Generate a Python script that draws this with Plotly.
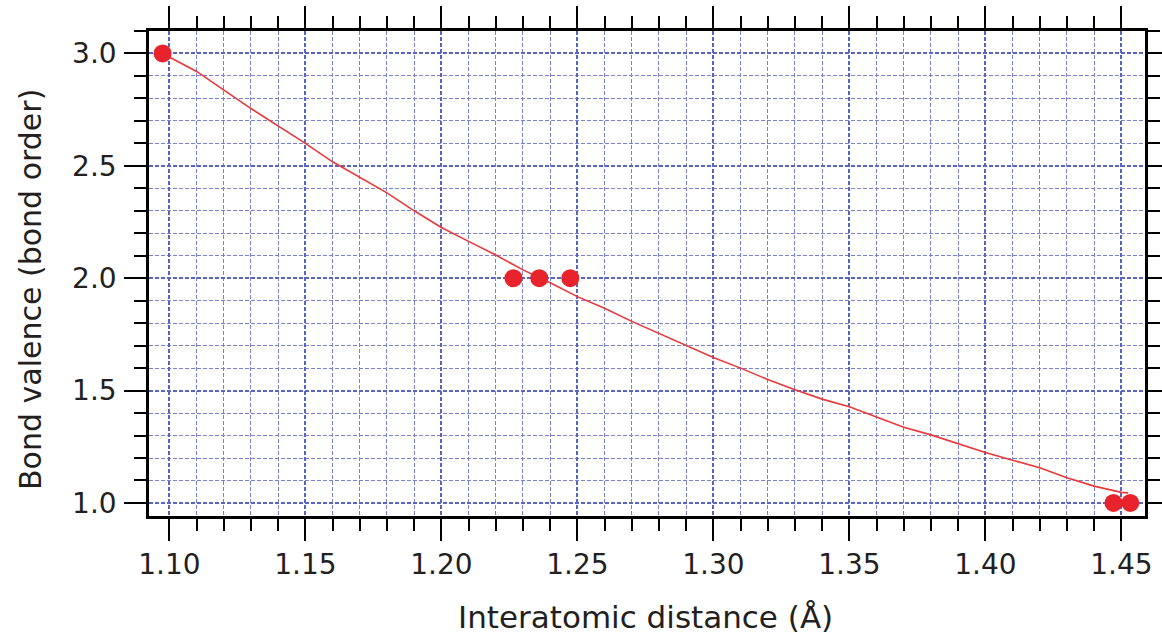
import plotly.graph_objects as go

# Data points (interatomic distance in Å, bond valence)
point_x = [1.0975, 1.2265, 1.2360, 1.2474, 1.4471, 1.4533]
point_y = [3.0, 2.0, 2.0, 2.0, 1.0, 1.0]

# Fitted curve
curve_x = [1.0975, 1.11, 1.13, 1.15, 1.16, 1.18, 1.19, 1.20, 1.21, 1.22, 1.23,
           1.24, 1.25, 1.26, 1.27, 1.28, 1.29, 1.30, 1.31, 1.32, 1.33, 1.34,
           1.35, 1.36, 1.37, 1.38, 1.39, 1.40, 1.41, 1.42, 1.43, 1.44, 1.45, 1.4525]
curve_y = [3.0, 2.92, 2.755, 2.60, 2.518, 2.38, 2.30, 2.226, 2.164, 2.103, 2.037,
           1.98, 1.918, 1.866, 1.808, 1.755, 1.70, 1.647, 1.60, 1.549, 1.504, 1.462,
           1.428, 1.382, 1.337, 1.303, 1.263, 1.225, 1.19, 1.157, 1.112, 1.075, 1.047, 1.045]

x_title = "Interatomic distance (Å)"
y_title = "Bond valence (bond order)"

red = "#e8232b"
grid_major = "#5a64c4"
grid_minor = "#7a82d0"
ink = "#231f20"
font = "DejaVu Sans, Liberation Sans, Arial, sans-serif"

fig = go.Figure()
fig.add_trace(go.Scatter(x=curve_x, y=curve_y, mode="lines",
                         line=dict(color="#e8383a", width=1.6),
                         hoverinfo="skip", showlegend=False))
fig.add_trace(go.Scatter(x=point_x, y=point_y, mode="markers",
                         marker=dict(color=red, size=18, line=dict(width=0)),
                         showlegend=False))

axis_common = dict(
    showline=True, linecolor="black", linewidth=2.5, mirror="ticks",
    ticks="outside", tickcolor="black", tickwidth=2.2,
    showgrid=True, gridcolor=grid_major, gridwidth=2, griddash="4px,2px",
    zeroline=False, automargin=False,
    tickfont=dict(family=font, size=28, color=ink),
)

fig.update_xaxes(
    **axis_common,
    range=[1.0925, 1.4587], tick0=1.10, dtick=0.05, tickformat=".2f",
    ticklen=22, ticklabelstandoff=0,
    minor=dict(dtick=0.01, tick0=1.10, ticks="outside", ticklen=12,
               tickcolor="black", tickwidth=2,
               showgrid=True, gridcolor=grid_minor, gridwidth=1.2, griddash="4px,2px"),
)
fig.update_yaxes(
    **axis_common,
    range=[0.942, 3.1], tick0=1.0, dtick=0.5, tickformat=".1f",
    ticklen=22, ticklabelstandoff=2,
    minor=dict(dtick=0.1, tick0=1.0, ticks="outside", ticklen=12,
               tickcolor="black", tickwidth=2,
               showgrid=True, gridcolor=grid_minor, gridwidth=1.2, griddash="4px,2px"),
)

fig.add_annotation(text=x_title, xref="paper", yref="paper", x=0.498, y=-0.208,
                   xanchor="center", yanchor="middle", showarrow=False,
                   font=dict(family=font, size=31, color=ink))
fig.add_annotation(text=y_title, xref="paper", yref="paper", x=-0.1195, y=0.468,
                   xanchor="center", yanchor="middle", textangle=-90, showarrow=False,
                   font=dict(family=font, size=30, color=ink))

fig.update_layout(
    width=1162, height=641,
    margin=dict(l=149, r=17, t=31, b=125),
    plot_bgcolor="white", paper_bgcolor="white",
    showlegend=False,
)

fig.write_html("out.html")
